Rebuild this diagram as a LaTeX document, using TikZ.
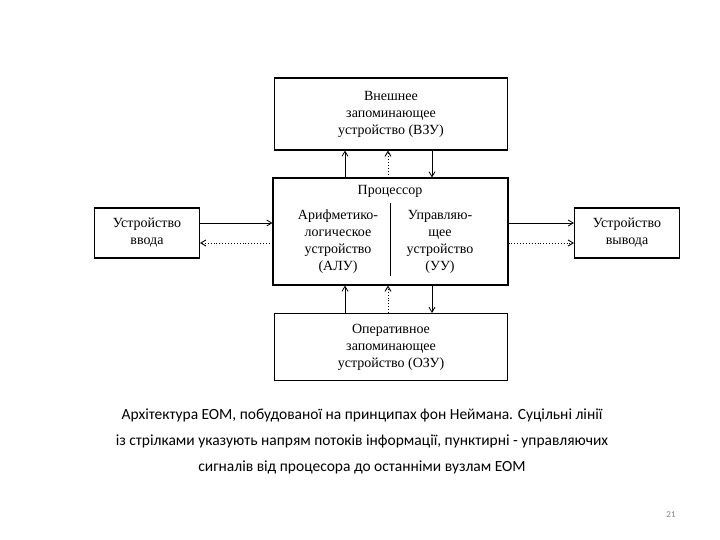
\documentclass[tikz,border=0pt]{standalone}
\usepackage{fontspec}
\usetikzlibrary{arrows.meta}
\setmainfont{Liberation Serif}
\newfontfamily\capfont{Carlito}
\begin{document}
\begin{tikzpicture}[x=1pt,y=-1pt,
 blk/.style={draw,line width=1.1pt,inner sep=0pt,align=center,font=\fontsize{14}{17}\selectfont},
 txt/.style={align=center,font=\fontsize{14}{17}\selectfont},
 sol/.style={-{Straight Barb[length=5pt,width=6pt]},line width=0.8pt},
 dot/.style={-{Straight Barb[length=5pt,width=6pt]},line width=0.9pt,dotted}]
\useasboundingbox (0,0) rectangle (720,540);
\node[blk,minimum width=233pt,minimum height=72pt] (vzu) at (391,114) {Внешнее\\запоминающее\\устройство (ВЗУ)};
\node[blk,minimum width=235pt,minimum height=107pt] (cpu) at (390.5,231.5) {};
\node[blk,minimum width=233pt,minimum height=67pt] (ozu) at (391,347) {Оперативное\\запоминающее\\устройство (ОЗУ)};
\node[blk,minimum width=105pt,minimum height=50pt] (in) at (147,233) {Устройство\\ввода};
\node[blk,minimum width=105pt,minimum height=50pt] (out) at (627,233) {Устройство\\вывода};
\node[txt] (ptitle) at (390,191) {Процессор};
\node[txt] (alu) at (338,242) {Арифметико-\\логическое\\устройство\\(АЛУ)};
\node[txt] (uu) at (440,242) {Управляю-\\щее\\устройство\\(УУ)};
\coordinate (d1) at (390,203); \coordinate (d2) at (390,276);
\draw[line width=0.8pt] (d1) -- (d2);
% top
\draw[sol] (cpu.north -| 345,0) -- (vzu.south -| 345,0);
\draw[dot] (cpu.north -| 388,0) -- (vzu.south -| 388,0);
\draw[sol] (vzu.south -| 432,0) -- (cpu.north -| 432,0);
% bottom
\draw[sol] (ozu.north -| 345,0) -- (cpu.south -| 345,0);
\draw[dot] (ozu.north -| 388,0) -- (cpu.south -| 388,0);
\draw[sol] (cpu.south -| 432,0) -- (ozu.north -| 432,0);
% sides
\draw[sol] (in.east |- 0,223) -- (cpu.west |- 0,223);
\draw[dot] (cpu.west |- 0,243) -- (in.east |- 0,243);
\draw[sol] (cpu.east |- 0,223) -- (out.west |- 0,223);
\draw[dot] (cpu.east |- 0,243) -- (out.west |- 0,243);
\node[font=\capfont\fontsize{15.5}{26}\selectfont,align=center] (cap) at (362,441) {Архітектура ЕОМ, побудованої на принципах фон Неймана. Суцільні лінії\\із стрілками указують напрям потоків інформації, пунктирні - управляючих\\сигналів від процесора до останніми вузлам ЕОМ};
\node[font=\capfont\fontsize{9}{10}\selectfont,text=gray] (pg) at (671,515) {21};
\end{tikzpicture}
\end{document}
